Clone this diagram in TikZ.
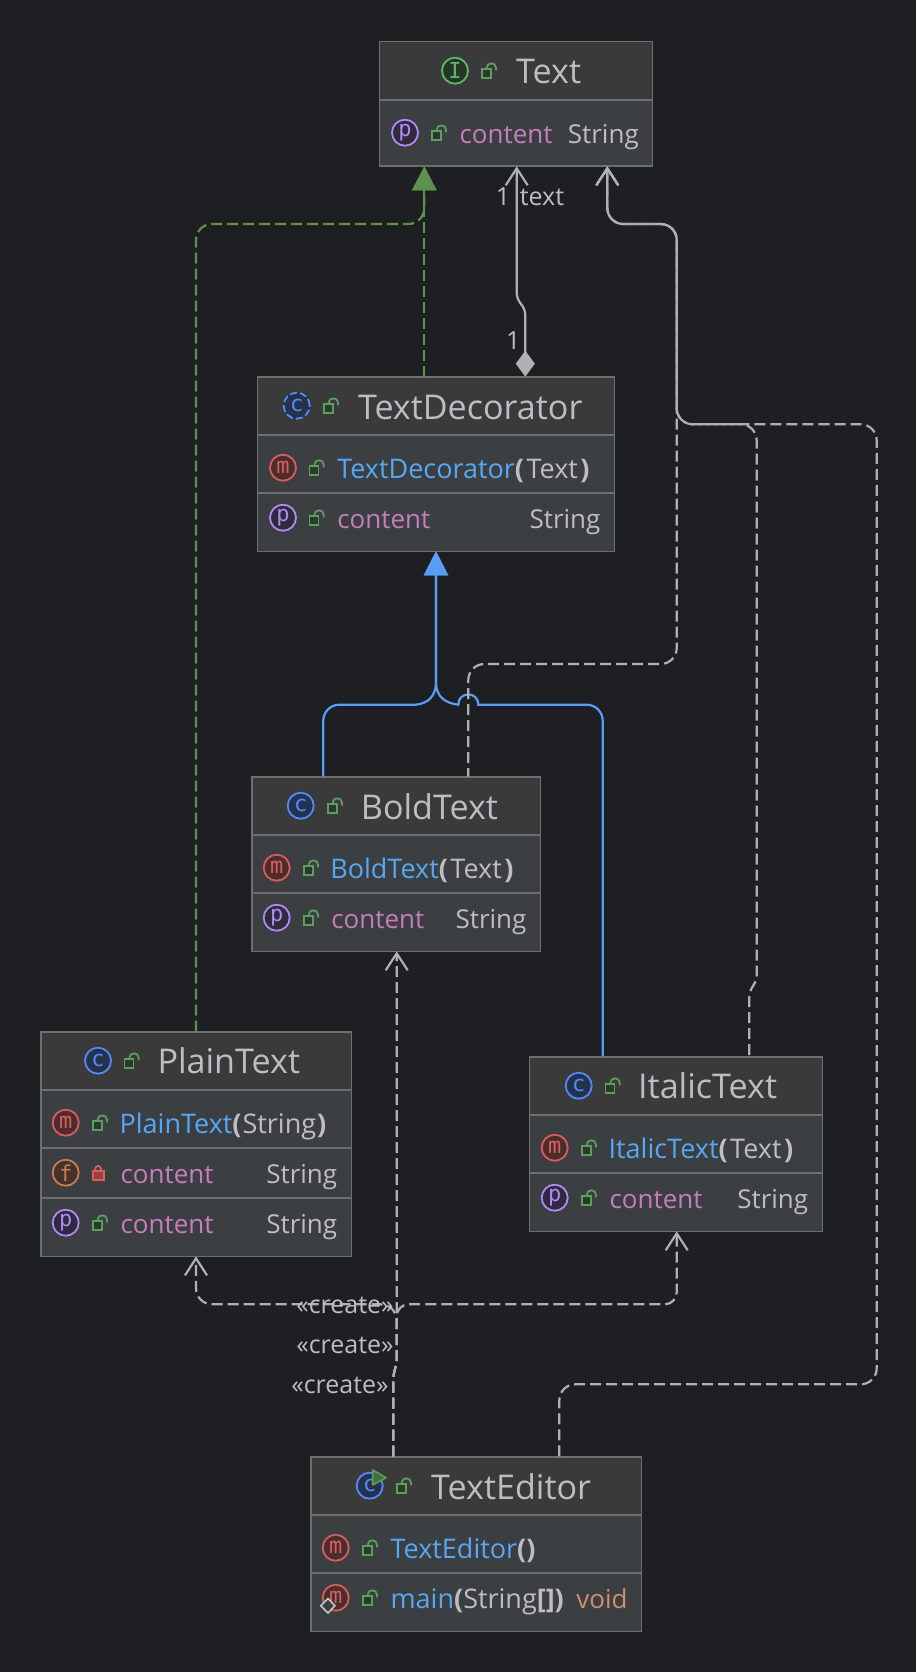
\documentclass[tikz,border=0pt]{standalone}
\usepackage{fontspec}
\usepackage{xcolor}
\usepackage{tikz}
\usetikzlibrary{arrows.meta}
\setmainfont{Open Sans}
\newfontfamily\iconfont{DejaVu Sans Mono}
\definecolor{bgdark}{HTML}{1E1F22}
\definecolor{headfill}{HTML}{3A3A3A}
\definecolor{bodyfill}{HTML}{3C3F41}
\definecolor{rimgray}{HTML}{6E6E6E}
\definecolor{fggray}{HTML}{BCBEC4}
\definecolor{linegray}{HTML}{B0B0B0}
\definecolor{methblue}{HTML}{56A8F5}
\definecolor{proppink}{HTML}{C77DBB}
\definecolor{voidorange}{HTML}{CF8E6D}
\definecolor{lockgreen}{HTML}{5C9E5C}
\definecolor{lockfill}{HTML}{2B3A2D}
\definecolor{implgreen}{HTML}{5D914D}
\definecolor{extblue}{HTML}{589DF6}
\definecolor{iconblue}{HTML}{548AF7}
\definecolor{iconbluebg}{HTML}{25324D}
\definecolor{iconred}{HTML}{DB5C5C}
\definecolor{iconredbg}{HTML}{4A2E2E}
\definecolor{iconpurple}{HTML}{B189F5}
\definecolor{iconpurplebg}{HTML}{2F2A3D}
\definecolor{icongreen}{HTML}{5FB865}
\definecolor{icongreenbg}{HTML}{253627}
\definecolor{iconorange}{HTML}{C77D55}
\definecolor{iconorangebg}{HTML}{45322A}

\begin{document}
\begin{tikzpicture}[x=1pt, y=-1pt,
    classbox/.style={draw=rimgray, line width=1.6pt, fill=bodyfill, inner sep=0pt,
      outer sep=0pt, path picture={
        \fill[headfill] (path picture bounding box.north west) rectangle
          ([yshift=-58.3pt]path picture bounding box.north east);
        \draw[rimgray, line width=1.6pt] ([yshift=-58.3pt]path picture bounding box.north west) --
          ([yshift=-58.3pt]path picture bounding box.north east);}},
    rowline/.style={rimgray, line width=1.6pt},
    title/.style={anchor=base west, inner sep=0pt, text=fggray, yshift=-1pt,
      font=\fontsize{34.1}{40}\selectfont},
    member/.style={anchor=base west, inner sep=0pt, text=fggray, yshift=-1pt, xshift=-0.6pt,
      font=\fontsize{26}{32}\selectfont},
    meth/.style={member, font=\fontsize{27}{32}\selectfont},
    prop/.style={member, text=proppink},
    small/.style={inner sep=0pt, text=fggray, font=\fontsize{25}{30}\selectfont},
    icon/.style={circle, line width=1.8pt, inner sep=0pt, minimum size=26pt,
      font=\iconfont\fontsize{22}{22}\selectfont},
    iconc/.style={icon, draw=iconblue, fill=iconbluebg, text=iconblue},
    iconm/.style={icon, draw=iconred, fill=iconredbg, text=iconred},
    iconp/.style={icon, draw=iconpurple, fill=iconpurplebg, text=iconpurple},
    iconi/.style={icon, draw=icongreen, fill=icongreenbg, text=icongreen},
    iconf/.style={icon, draw=iconorange, fill=iconorangebg, text=iconorange},
    realize/.style={implgreen, line width=2.2pt, dash pattern=on 11pt off 5pt, rounded corners=16pt,
      -{Triangle[length=24pt,width=24pt]}},
    extend/.style={extblue, line width=2.2pt, rounded corners=16pt,
      -{Triangle[length=24pt,width=24pt]}},
    uses/.style={linegray, line width=2.2pt, dash pattern=on 11pt off 5pt, rounded corners=16pt,
      -{Straight Barb[length=17pt,width=22pt]}},
    lockopen/.pic={
      \draw[lockgreen, line width=1.8pt, fill=lockfill] (-7.3,-1.4) rectangle (1.7,7.6);
      \draw[lockgreen, line width=1.8pt] (-2.3,-1.4) -- (-2.3,-3) .. controls (-2.3,-8.8) and (7,-8.8) .. (7,-3) -- (7,-0.4);},
    lockshut/.pic={
      \draw[iconred, line width=1.8pt, fill=iconred!70!black] (-5.4,-2) rectangle (5.6,7.3);
      \draw[iconred, line width=1.8pt] (-3,-2) .. controls (-3,-8.5) and (3.2,-8.5) .. (3.2,-2);}]

\path[use as bounding box, fill=bgdark] (0,0) rectangle (916,1672);

%% ── CLASS BOXES ──────────────────────────────────────────────────────────────
\node[classbox, minimum width=273pt, minimum height=124.6pt] (textbox) at (516,104) {};
\node[classbox, minimum width=357.2pt, minimum height=174.6pt] (decobox) at (436,464) {};
\node[classbox, minimum width=288.6pt, minimum height=174.6pt] (boldbox) at (396,864) {};
\node[classbox, minimum width=310.6pt, minimum height=224.6pt] (plainbox) at (196,1144) {};
\node[classbox, minimum width=293.3pt, minimum height=174.6pt] (italicbox) at (676,1144) {};
\node[classbox, minimum width=330.6pt, minimum height=174.6pt] (editorbox) at (476,1544) {};

% second row lines
\draw[rowline] ([yshift=-116.3pt]decobox.north west) -- ([yshift=-116.3pt]decobox.north east);
\draw[rowline] ([yshift=-116.3pt]boldbox.north west) -- ([yshift=-116.3pt]boldbox.north east);
\draw[rowline] ([yshift=-116.3pt]plainbox.north west) -- ([yshift=-116.3pt]plainbox.north east);
\draw[rowline] ([yshift=-166.5pt]plainbox.north west) -- ([yshift=-166.5pt]plainbox.north east);
\draw[rowline] ([yshift=-116.3pt]italicbox.north west) -- ([yshift=-116.3pt]italicbox.north east);
\draw[rowline] ([yshift=-116.3pt]editorbox.north west) -- ([yshift=-116.3pt]editorbox.north east);

%% ── TEXT ─────────────────────────────────────────────────────────────────────
\node[iconi] (texticon) at (455,70.7) {I};
\pic at (489,70.7) {lockopen};
\node[title] (texttitle) at (516,82.7) {Text};
\node[iconp] (textpicon) at (405,132.7) {p};
\pic at (439,132.7) {lockopen};
\node[prop] (textprop) at (460,142.7) {content};
\node[member] (texttype) at (568.3,142.7) {String};

%% ── TEXTDECORATOR ────────────────────────────────────────────────────────────
\node[iconc, dash pattern=on 7pt off 3pt] (decoicon) at (296.7,405.7) {c};
\pic at (331,405.7) {lockopen};
\node[title] (decotitle) at (357.8,418.3) {TextDecorator};
\node[iconm] (decomicon) at (283,467.7) {m};
\pic at (316.7,467.7) {lockopen};
\node[meth] (decometh) at (337.7,477.3) {\textcolor{methblue}{TextDecorator}\textbf{(}\kern2.5pt Text\kern2.5pt\textbf{)}};
\node[iconp] (decopicon) at (283,517.7) {p};
\pic at (316.7,517.7) {lockopen};
\node[prop] (decoprop) at (337.7,527.3) {content};
\node[member] (decotype) at (530,527.3) {String};

%% ── BOLDTEXT ─────────────────────────────────────────────────────────────────
\node[iconc] (boldicon) at (300.7,805.7) {c};
\pic at (335,805.7) {lockopen};
\node[title] (boldtitle) at (360.7,818.3) {BoldText};
\node[iconm] (boldmicon) at (276.7,867.7) {m};
\pic at (311,867.7) {lockopen};
\node[meth] (boldmeth) at (330.7,877.3) {\textcolor{methblue}{BoldText}\textbf{(}\kern2.5pt Text\kern2.5pt\textbf{)}};
\node[iconp] (boldpicon) at (276.7,917.7) {p};
\pic at (311,917.7) {lockopen};
\node[prop] (boldprop) at (331.7,927.3) {content};
\node[member] (boldtype) at (456,927.3) {String};

%% ── PLAINTEXT ────────────────────────────────────────────────────────────────
\node[iconc] (plainicon) at (98,1060.7) {c};
\pic at (131.7,1060.7) {lockopen};
\node[title] (plaintitle) at (157.3,1072.7) {PlainText};
\node[iconm] (plainmicon) at (65.7,1122.7) {m};
\pic at (100,1122.7) {lockopen};
\node[meth] (plainmeth) at (120,1132.7) {\textcolor{methblue}{PlainText}\textbf{(}\kern1pt String\kern1pt\textbf{)}};
\node[iconf] (plainficon) at (65.7,1172.7) {f};
\pic at (98,1172.7) {lockshut};
\node[prop] (plainfield) at (121,1182.7) {content};
\node[member] (plainftype) at (266.7,1182.7) {String};
\node[iconp] (plainpicon) at (65.7,1222.7) {p};
\pic at (100,1222.7) {lockopen};
\node[prop] (plainprop) at (121,1232.7) {content};
\node[member] (plainptype) at (266.7,1232.7) {String};

%% ── ITALICTEXT ───────────────────────────────────────────────────────────────
\node[iconc] (italicicon) at (578.7,1085.7) {c};
\pic at (612.7,1085.7) {lockopen};
\node[title] (italictitle) at (638,1097.7) {ItalicText};
\node[iconm] (italicmicon) at (554.7,1147.7) {m};
\pic at (589,1147.7) {lockopen};
\node[meth] (italicmeth) at (609,1157.7) {\textcolor{methblue}{ItalicText}\textbf{(}\kern2.5pt Text\kern2.5pt\textbf{)}};
\node[iconp] (italicpicon) at (554.7,1197.7) {p};
\pic at (589,1197.7) {lockopen};
\node[prop] (italicprop) at (610,1207.7) {content};
\node[member] (italictype) at (737.7,1207.7) {String};

%% ── TEXTEDITOR ───────────────────────────────────────────────────────────────
\node[iconc] (editoricon) at (369.7,1485.7) {c};
% run marker on the class icon
\draw[lockgreen, line width=1.6pt, fill=lockgreen!70!black, line join=round] (372.7,1470) -- (386,1477.7) -- (372.7,1485) -- cycle;
\pic at (404,1485.7) {lockopen};
\node[title] (editortitle) at (431,1498.3) {TextEditor};
\node[iconm] (editormicon) at (335.7,1547.7) {m};
\pic at (370,1547.7) {lockopen};
\node[meth] (editormeth) at (391,1557.3) {\textcolor{methblue}{TextEditor}\textbf{()}};
\node[iconm] (editorsicon) at (335.7,1597.7) {m};
% static marker
\draw[fggray!90!white, line width=1.6pt, fill=bodyfill] (328,1598.5) -- (335,1605.7) -- (328,1613) -- (320.7,1605.7) -- cycle;
\pic at (370,1597.7) {lockopen};
\node[meth] (editormain) at (391,1607.3) {\textcolor{methblue}{main}\textbf{(}String\textbf{[]}\textbf{)}};
\node[member, text=voidorange] (editorvoid) at (576.7,1607.3) {void};

%% ── IMPLEMENTS (green) ───────────────────────────────────────────────────────
\draw[realize] (plainbox.north) -- (196,224) -- (424.3,224) -- ([xshift=-91.7pt]textbox.south);
\draw[realize] ([xshift=-11.7pt]decobox.north) -- ([xshift=-91.7pt]textbox.south);

%% ── EXTENDS (blue) ───────────────────────────────────────────────────────────
\draw[extend] ([xshift=-72.7pt]boldbox.north) -- (323.3,704.7) -- (380,704.7) [sharp corners] -- (416,704.7)
  .. controls (429,703) and (435,696) .. (436,684) -- (decobox.south);
\draw[extend] ([xshift=-73.3pt]italicbox.north) -- (602.7,704.7) -- (540,704.7) [sharp corners] -- (478.3,704.7)
  .. controls (478.3,691) and (458.3,691) .. (458.3,704.7)
  .. controls (445,703) and (437,697) .. (436,684) -- (decobox.south);

%% ── ASSOCIATIONS TO TEXT ─────────────────────────────────────────────────────
\draw[linegray, line width=2.2pt, rounded corners=5pt,
    {Diamond[length=26pt,width=19pt]}-{Straight Barb[length=17pt,width=22pt]}]
  ([xshift=89.3pt]decobox.north) -- (525.3,310) -- (516.7,298) -- ([xshift=0.7pt]textbox.south);
% phases chosen so the shared run reads as a solid line
\draw[uses, dash phase=2.3pt] ([xshift=72.3pt]boldbox.north) -- (468.3,664) -- (676.7,664)
  -- (676.7,224) -- (607.3,224) -- ([xshift=91.3pt]textbox.south);
\draw[uses, dash phase=14.3pt, rounded corners=5pt] ([xshift=73.3pt]italicbox.north) -- (749.3,992) -- (756.7,980)
  -- (756.7,700) [rounded corners=16pt] -- (756.7,424.3) -- (676.7,424.3) -- (676.7,224) -- (607.3,224) -- ([xshift=91.3pt]textbox.south);
\draw[uses, dash phase=15.7pt] ([xshift=83.3pt]editorbox.north) -- (559.3,1384.3) -- (876.7,1384.3)
  -- (876.7,424.3) -- (676.7,424.3) -- (676.7,224) -- (607.3,224) -- ([xshift=91.3pt]textbox.south);

%% ── CREATE DEPENDENCIES ──────────────────────────────────────────────────────
\draw[uses, rounded corners=5pt] ([xshift=-82.7pt]editorbox.north) -- (393.3,1375) -- (396.7,1363)
  -- ([xshift=0.7pt]boldbox.south);
\draw[uses, rounded corners=5pt] ([xshift=-82.7pt]editorbox.north) -- (393.3,1375) -- (396.7,1363)
  -- (396.7,1340) [rounded corners=16pt] -- (396.7,1304.3) -- (196,1304.3) -- (plainbox.south);
\draw[uses, rounded corners=5pt] ([xshift=-82.7pt]editorbox.north) -- (393.3,1375) -- (396.7,1363)
  -- (396.7,1340) [rounded corners=12pt] -- (396.7,1304.3) -- (676.7,1304.3) [rounded corners=16pt]
  -- ([xshift=0.7pt]italicbox.south);

%% ── LABELS ───────────────────────────────────────────────────────────────────
\node[small] (onetop) at (503,197) {1};
\node[small] (textlabel) at (542,197) {text};
\node[small] (onebottom) at (513.3,341) {1};
\node[small] (createplain) at (345,1305) {«create»};
\node[small] (createitalic) at (345,1345) {«create»};
\node[small] (createbold) at (340,1385) {«create»};

\end{tikzpicture}
\end{document}
